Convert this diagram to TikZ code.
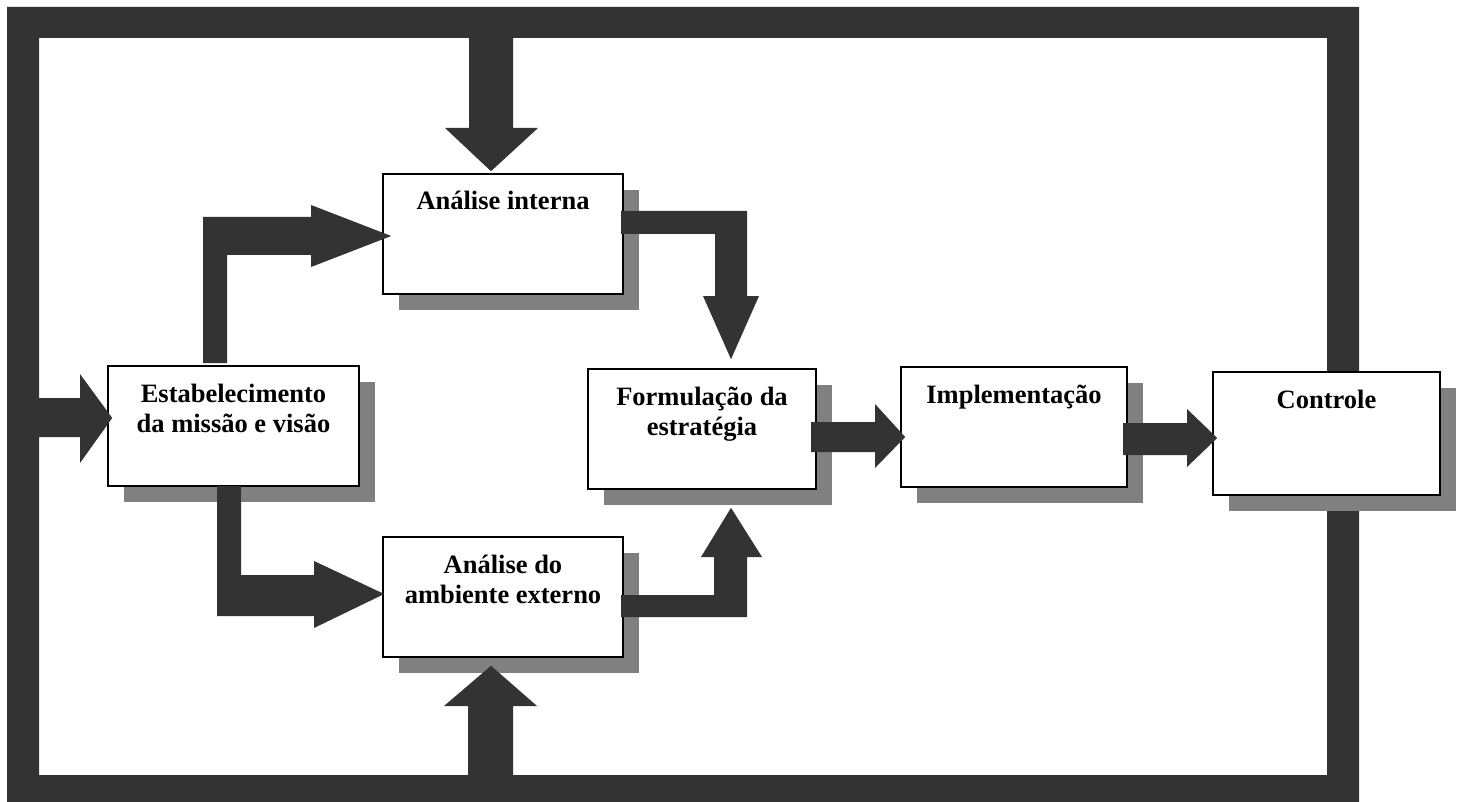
\documentclass[tikz,border=0pt]{standalone}
\usepackage{fontspec}
\setmainfont{Liberation Serif}
\usetikzlibrary{shadows,calc}

\definecolor{band}{HTML}{333333}
\definecolor{shade}{HTML}{808080}

% box content: fixed size, text hung from the top edge
\newcommand\stagetext[3]{\parbox[c][#2pt][t]{#1pt}{\centering\rule{0pt}{36pt}#3}}

\tikzset{
  stage/.style={draw=black, line width=1.6pt, fill=white, inner sep=0pt,
    font=\fontsize{26.5}{30}\selectfont\bfseries,
    drop shadow={shadow xshift=16pt, shadow yshift=-16pt, fill=shade, opacity=1}},
  blockarrow/.style={fill=band, draw=none},
  loopband/.style={fill=band, even odd rule}
}

\begin{document}
\begin{tikzpicture}[x=1pt, y=-1pt]
  \useasboundingbox (0,0) rectangle (1458,802);

  % feedback loop around the whole process
  \fill[loopband] (7,7) rectangle (1359,802) (39,38) rectangle (1327,775);

  % stages
  \node[stage] (estab) at (233.5,426) {\stagetext{251}{120}{Estabelecimento\\da missão e visão}};
  \node[stage] (ai)    at (503,234)   {\stagetext{240}{120}{Análise interna}};
  \node[stage] (ae)    at (503,597)   {\stagetext{240}{120}{Análise do\\ambiente externo}};
  \node[stage] (form)  at (702,429)   {\stagetext{228}{120}{Formulação da\\estratégia}};
  \node[stage] (impl)  at (1014,427)  {\stagetext{226}{120}{Implementação}};
  \node[stage] (ctrl)  at (1326.5,433.5) {\stagetext{227}{123}{Controle}};

  % loop -> estab
  \fill[blockarrow] (30,398) -- (80,398) -- (80,374) -- ($(estab.west)+(5,-8)$)
    -- (80,463) -- (80,437) -- (30,437) -- cycle;
  % loop (top) -> ai
  \fill[blockarrow] (469,30) -- (469,128) -- (445,128) -- ($(ai.north)+(-12,-2)$)
    -- (538,128) -- (513,128) -- (513,30) -- cycle;
  % loop (bottom) -> ae
  \fill[blockarrow] (468,780) -- (468,706) -- (444,706) -- ($(ae.south)+(-12,8)$)
    -- (537,706) -- (513,706) -- (513,780) -- cycle;

  % estab -> ai
  \fill[blockarrow] (203,363) -- (203,217) -- (311,217) -- (311,205)
    -- ($(ai.west)+(9,2)$) -- (311,267) -- (311,255) -- (227,255) -- (227,363) -- cycle;
  % estab -> ae
  \fill[blockarrow] (217,486) -- (217,616) -- (314,616) -- (314,628)
    -- ($(ae.west)+(2,-3)$) -- (314,561) -- (314,575) -- (241,575) -- (241,486) -- cycle;

  % ai -> form
  \fill[blockarrow] (621,211) -- (747,211) -- (747,296) -- (759,296)
    -- ($(form.north)+(29,-9)$) -- (703,296) -- (715,296) -- (715,234) -- (621,234) -- cycle;
  % ae -> form
  \fill[blockarrow] (621,595) -- (714,595) -- (714,557) -- (701,557)
    -- ($(form.south)+(29,18)$) -- (762,557) -- (747,557) -- (747,617) -- (621,617) -- cycle;

  % form -> impl
  \fill[blockarrow] (811,422) -- (875,422) -- (875,404) -- ($(impl.west)+(5,10)$)
    -- (875,468) -- (875,452) -- (811,452) -- cycle;
  % impl -> ctrl
  \fill[blockarrow] (1123,423) -- (1187,423) -- (1187,409) -- ($(ctrl.west)+(5,4.5)$)
    -- (1187,467) -- (1187,455) -- (1123,455) -- cycle;
\end{tikzpicture}
\end{document}
